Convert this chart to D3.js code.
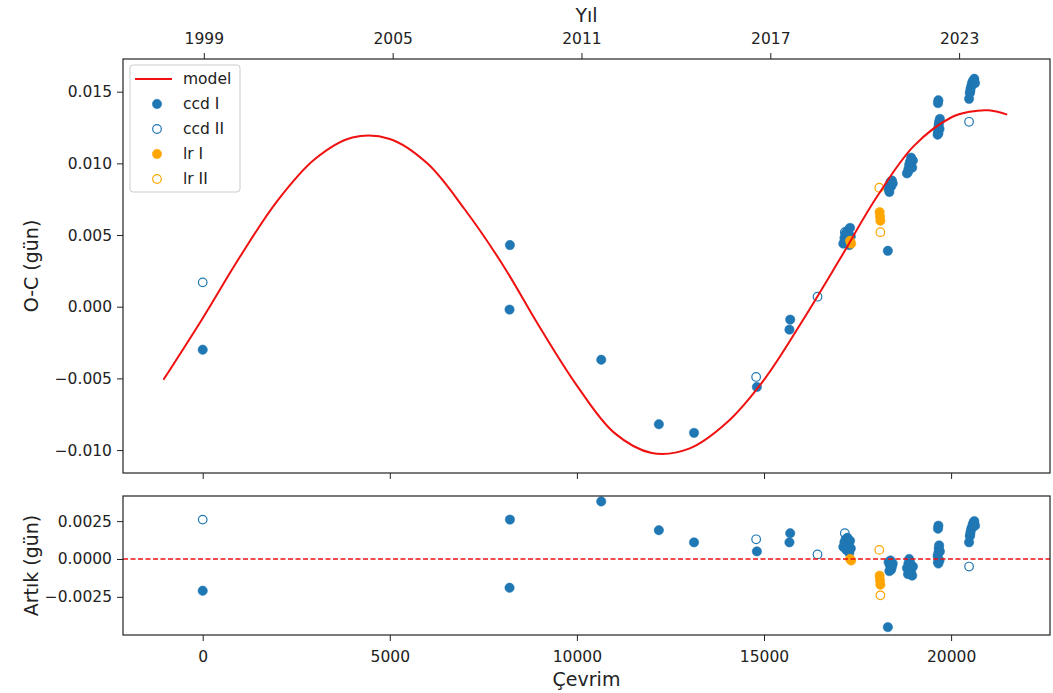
<!DOCTYPE html>
<html><head><meta charset="utf-8">
<script src="https://cdn.jsdelivr.net/npm/d3@7"></script>
<style>
body{margin:0;background:#fff;}
svg text{font-family:"DejaVu Sans",sans-serif;fill:#222;}
</style>
</head><body>
<svg id="chart" width="1053" height="693"></svg>
<script>
// ---------------- DATA ----------------
const modelCycle = [-1050, 0, 1000, 2000, 3000, 4000, 5000, 6000, 7000, 8000, 9000, 10000, 11000, 12000, 13000, 14000, 15000, 16000, 17000, 18000, 19000, 20000, 20500, 21000, 21500];
const modelOC    = [-0.0051, -0.0008, 0.0035, 0.0074, 0.0103, 0.0118, 0.0117, 0.0100, 0.0068, 0.0030, -0.0014, -0.0055, -0.0088, -0.0102, -0.0099, -0.0081, -0.0051, -0.0011, 0.0032, 0.0076, 0.0112, 0.0132, 0.0136, 0.0137, 0.0134];

const ccd1Cycle = [0, 8210, 8200, 10650, 12190, 13130, 14810, 15700, 15680,
  17120, 17150, 17180, 17200, 17230, 17260, 17300, 17320, 17280,
  18310,
  18330, 18360, 18380, 18400, 18420, 18350, 18440,
  18820, 18860, 18880, 18900, 18930, 18960, 18980, 18850,
  19640, 19650, 19660, 19670, 19680, 19690, 19700, 19660, 19650, 19660,
  20480, 20500, 20520, 20540, 20560, 20580, 20600, 20620, 20640, 20510];
const ccd1OC = [-0.0030, 0.0043, -0.0002, -0.0037, -0.0082, -0.0088, -0.0056, -0.0009, -0.0016,
  0.0044, 0.0048, 0.0051, 0.0046, 0.0053, 0.0050, 0.0055, 0.0049, 0.0043,
  0.0039,
  0.0082, 0.0085, 0.0087, 0.0084, 0.0088, 0.0080, 0.0086,
  0.0093, 0.0096, 0.0099, 0.0101, 0.0104, 0.0097, 0.0102, 0.0094,
  0.0120, 0.0122, 0.0125, 0.0127, 0.0129, 0.0124, 0.0131, 0.0121, 0.0142, 0.0144,
  0.0145, 0.0149, 0.0152, 0.0154, 0.0156, 0.0157, 0.0158, 0.0159, 0.0156, 0.0150];
const ccd1Res = [-0.0021, 0.0026, -0.0019, 0.0038, 0.0019, 0.0011, 0.0005, 0.0017, 0.0011,
  0.0008, 0.0011, 0.0013, 0.0006, 0.0014, 0.0009, 0.0012, 0.0007, 0.0004,
  -0.0045,
  -0.0002, -0.0004, -0.0001, -0.0007, -0.0005, -0.0008, -0.0003,
  -0.0006, -0.0003, 0.0000, -0.0002, -0.0008, -0.0011, -0.0005, -0.0010,
  0.0002, -0.0002, 0.0004, 0.0007, 0.0009, -0.0001, 0.0005, -0.0003, 0.0020, 0.0022,
  0.0011, 0.0015, 0.0018, 0.0020, 0.0021, 0.0023, 0.0024, 0.0025, 0.0022, 0.0016];

const ccd2Cycle = [0, 14790, 16430, 17160, 20480];
const ccd2OC    = [0.0017, -0.0049, 0.0007, 0.0052, 0.0129];
const ccd2Res   = [0.0026, 0.0013, 0.0003, 0.0017, -0.0005];

const lr1Cycle = [17330, 17300, 18090, 18100, 18110];
const lr1OC    = [0.0044, 0.0046, 0.0066, 0.0063, 0.0060];
const lr1Res   = [-0.0001, 0.0000, -0.0011, -0.0014, -0.0017];

const lr2Cycle = [18080, 18110];
const lr2OC    = [0.0083, 0.0052];
const lr2Res   = [0.0006, -0.0024];

const yearTicks = [1999, 2005, 2011, 2017, 2023];
const mainYTicks = [-0.010, -0.005, 0.000, 0.005, 0.010, 0.015];
const resYTicks = [-0.0025, 0.0000, 0.0025];
const xTicks = [0, 5000, 10000, 15000, 20000];
const legendLabels = ["model", "ccd I", "ccd II", "lr I", "lr II"];

// ---------------- LAYOUT ----------------
const BLUE = "#1f77b4", ORANGE = "#ffa500", RED = "#f01010";
const L = 123, R = 1050;
const mainTop = 59, mainBot = 473, resTop = 496, resBot = 635;
const epochYear = 1999, epochCycle = 30, cyclesPerYear = 841;

const svg = d3.select("#chart");
const x = d3.scaleLinear().domain([-2130, 22643]).range([L, R]);
const yMain = d3.scaleLinear().domain([-0.0116, 0.01728]).range([mainBot, mainTop]);
const yRes = d3.scaleLinear().domain([-0.00502, 0.00416]).range([resBot, resTop]);
const yearOf = c => epochYear + (c - epochCycle) / cyclesPerYear;
const xYear = d3.scaleLinear().domain(x.domain().map(yearOf)).range([L, R]);

const minus = s => s.replace("-", "\u2212");
const fs = 15.5, lfs = 19;

function styleAxis(g) {
  g.selectAll("path").attr("stroke", "none");
  g.selectAll("line").attr("stroke", "#222").attr("stroke-width", 1);
  g.selectAll("text").attr("font-size", fs).attr("fill", "#222").attr("font-family", "DejaVu Sans");
}

// main panel axes
svg.append("g").attr("transform", `translate(${L},0)`)
  .call(d3.axisLeft(yMain).tickValues(mainYTicks).tickFormat(d => minus(d3.format(".3f")(d))).tickSize(6).tickPadding(5))
  .call(styleAxis);
svg.append("g").attr("transform", `translate(0,${mainBot})`)
  .call(d3.axisBottom(x).tickValues(xTicks).tickFormat("").tickSize(6))
  .call(styleAxis);
svg.append("g").attr("transform", `translate(0,${mainTop})`)
  .call(d3.axisTop(xYear).tickValues(yearTicks).tickFormat(d3.format("d")).tickSize(6).tickPadding(9))
  .call(styleAxis);

// residual panel axes
svg.append("g").attr("transform", `translate(${L},0)`)
  .call(d3.axisLeft(yRes).tickValues(resYTicks).tickFormat(d => minus(d3.format(".4f")(d))).tickSize(6).tickPadding(5))
  .call(styleAxis);
svg.append("g").attr("transform", `translate(0,${resBot})`)
  .call(d3.axisBottom(x).tickValues(xTicks).tickFormat(d3.format("d")).tickSize(6).tickPadding(10))
  .call(styleAxis);

// clip paths
const defs = svg.append("defs");
defs.append("clipPath").attr("id", "clipMain").append("rect").attr("x", L).attr("y", mainTop).attr("width", R - L).attr("height", mainBot - mainTop);
defs.append("clipPath").attr("id", "clipRes").append("rect").attr("x", L).attr("y", resTop).attr("width", R - L).attr("height", resBot - resTop);

function scatter(g, cyc, vals, ys, color, filled) {
  g.selectAll(null).data(cyc.map((c, i) => [c, vals[i]])).enter().append("circle")
    .attr("cx", d => x(d[0])).attr("cy", d => ys(d[1])).attr("r", filled ? 4.7 : 4.3)
    .attr("fill", filled ? color : "none").attr("stroke", color).attr("stroke-width", filled ? 0.5 : 1.2);
}

const gMain = svg.append("g").attr("clip-path", "url(#clipMain)");
scatter(gMain, ccd1Cycle, ccd1OC, yMain, BLUE, true);
scatter(gMain, ccd2Cycle, ccd2OC, yMain, BLUE, false);
scatter(gMain, lr1Cycle, lr1OC, yMain, ORANGE, true);
scatter(gMain, lr2Cycle, lr2OC, yMain, ORANGE, false);
gMain.append("path").datum(modelCycle.map((c, i) => [c, modelOC[i]]))
  .attr("d", d3.line().x(d => x(d[0])).y(d => yMain(d[1])).curve(d3.curveCatmullRom.alpha(0.5)))
  .attr("fill", "none").attr("stroke", RED).attr("stroke-width", 2);

const gRes = svg.append("g").attr("clip-path", "url(#clipRes)");
scatter(gRes, ccd1Cycle, ccd1Res, yRes, BLUE, true);
scatter(gRes, ccd2Cycle, ccd2Res, yRes, BLUE, false);
scatter(gRes, lr1Cycle, lr1Res, yRes, ORANGE, true);
scatter(gRes, lr2Cycle, lr2Res, yRes, ORANGE, false);
gRes.append("line").attr("x1", L).attr("x2", R).attr("y1", yRes(0)).attr("y2", yRes(0))
  .attr("stroke", RED).attr("stroke-width", 1.3).attr("stroke-dasharray", "5,2.5");

// frames
[[mainTop, mainBot], [resTop, resBot]].forEach(([t, b]) => {
  svg.append("rect").attr("x", L).attr("y", t).attr("width", R - L).attr("height", b - t)
    .attr("fill", "none").attr("stroke", "#222").attr("stroke-width", 1.2);
});

// axis labels
svg.append("text").attr("transform", `translate(38,${(mainTop + mainBot) / 2}) rotate(-90)`)
  .attr("text-anchor", "middle").attr("font-size", lfs).text("O-C (gün)");
svg.append("text").attr("transform", `translate(38,${(resTop + resBot) / 2}) rotate(-90)`)
  .attr("text-anchor", "middle").attr("font-size", lfs).text("Artık (gün)");
svg.append("text").attr("x", (L + R) / 2).attr("y", 686).attr("text-anchor", "middle").attr("font-size", lfs).text("Çevrim");
svg.append("text").attr("x", (L + R) / 2).attr("y", 22).attr("text-anchor", "middle").attr("font-size", lfs).text("Yıl");

// legend
const lg = svg.append("g").attr("transform", "translate(130,65)");
lg.append("rect").attr("width", 110).attr("height", 127).attr("rx", 3)
  .attr("fill", "#fff").attr("fill-opacity", 0.8).attr("stroke", "#ccc").attr("stroke-width", 1);
legendLabels.forEach((lab, i) => {
  const yy = 14 + i * 25;
  if (i === 0) {
    lg.append("line").attr("x1", 5).attr("x2", 42).attr("y1", yy).attr("y2", yy).attr("stroke", RED).attr("stroke-width", 2);
  } else {
    const filled = (i === 1 || i === 3);
    const col = i <= 2 ? BLUE : ORANGE;
    lg.append("circle").attr("cx", 27).attr("cy", yy).attr("r", filled ? 4.7 : 4.3)
      .attr("fill", filled ? col : "none").attr("stroke", col).attr("stroke-width", filled ? 0.5 : 1.2);
  }
  lg.append("text").attr("x", 53).attr("y", yy).attr("dy", "0.35em").attr("font-size", fs).text(lab);
});
</script>
</body></html>
